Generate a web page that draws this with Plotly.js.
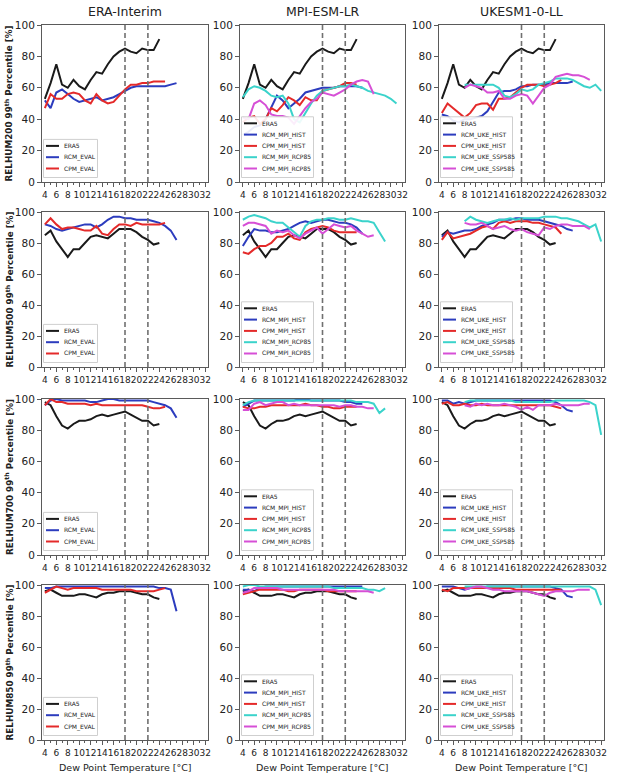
<!DOCTYPE html>
<html><head><meta charset="utf-8">
<script src="https://cdn.plot.ly/plotly-3.0.1.min.js"></script>
<style>html,body{margin:0;padding:0;background:#fff;}</style>
</head><body>
<div id="chart" style="width:617px;height:780px;"></div>
<script>
const N = null;
const dewPoint = [4,5,6,7,8,9,10,11,12,13,14,15,16,17,18,19,20,21,22,23,24,25,26,27,28,29,30,31,32];
const markedDewPoints = [18, 22];
const columnTitles = ['ERA-Interim', 'MPI-ESM-LR', 'UKESM1-0-LL'];
const levelNames = ['RELHUM200', 'RELHUM500', 'RELHUM700', 'RELHUM850'];
const xTitle = 'Dew Point Temperature [°C]';
const namesEval = ['ERA5', 'RCM_EVAL', 'CPM_EVAL'];
const namesMpi = ['ERA5', 'RCM_MPI_HIST', 'CPM_MPI_HIST', 'RCM_MPI_RCP85', 'CPM_MPI_RCP85'];
const namesUke = ['ERA5', 'RCM_UKE_HIST', 'CPM_UKE_HIST', 'RCM_UKE_SSP585', 'CPM_UKE_SSP585'];

// RELHUM200
const era5_200 = [53,63,75,62,60,65,61,59,65,70,69,75,80,83,85,83,82,85,84,84,91];
const rcmEval_200 = [52,47,57,59,56,53,51,52,53,54,52,53,54,56,58,60,61,61,61,61,61,61,62,63];
const cpmEval_200 = [47,56,53,53,56,57,56,52,50,56,52,50,51,55,59,62,62,63,63,64,64,64];
const rcmMpiHist_200 = [30,32,35,36,40,48,55,52,47,50,53,57,58,59,60,60,60,61,61,61,61,60];
const cpmMpiHist_200 = [38,41,42,37,40,47,45,49,54,52,49,54,52,52,58,59,60,61,63,63,62];
const rcmMpiRcp85_200 = [54,59,61,60,58,55,54,55,50,40,38,44,50,55,58,59,60,61,61,62,61,60,58,57,56,55,53,50];
const cpmMpiRcp85_200 = [41,40,50,52,49,43,42,42,41,37,42,47,51,53,57,56,55,57,59,62,64,65,64,56];
const rcmUkeHist_200 = [43,42,39,38,40,40,41,42,45,51,57,58,58,59,61,61,62,62,62,63,63,63,63,64];
const cpmUkeHist_200 = [44,50,47,44,41,44,49,50,50,46,53,53,54,57,60,62,62,62,61,62,63,65];
const rcmUkeSsp585_200 = [N,N,N,N,62,62,62,62,62,62,60,55,54,56,59,58,59,62,63,64,66,66,66,65,63,61,60,62,58];
const cpmUkeSsp585_200 = [N,N,N,N,60,62,61,60,57,57,58,53,53,55,56,55,50,55,60,62,67,68,69,68,68,67,65];

// RELHUM500
const era5_500 = [85,88,81,76,71,76,76,80,84,85,84,83,86,89,89,89,87,84,82,79,80];
const rcmEval_500 = [92,91,89,88,89,90,91,92,92,90,92,95,97,97,96,96,95,95,95,94,93,91,88,82];
const cpmEval_500 = [92,96,92,89,90,90,89,88,88,91,86,85,89,92,92,91,93,92,92,92,92,93];
const rcmMpiHist_500 = [78,84,89,88,88,87,87,88,89,91,93,94,93,94,95,95,94,93,93,92,90,86];
const cpmMpiHist_500 = [74,73,76,78,78,80,84,84,86,83,82,87,89,90,91,90,88,87,87,87,87];
const rcmMpiRcp85_500 = [95,97,98,97,96,94,93,93,90,87,84,91,94,95,95,96,96,95,95,96,95,94,94,93,87,81];
const cpmMpiRcp85_500 = [91,93,93,92,91,86,88,87,88,85,83,86,88,90,86,89,92,91,90,91,88,86,84,85];
const rcmUkeHist_500 = [84,87,86,87,88,88,89,91,92,93,95,95,95,96,96,95,95,95,94,93,92,91,89,88];
const cpmUkeHist_500 = [82,87,83,84,85,86,88,90,91,89,93,94,93,94,94,94,93,93,92,91,90,86];
const rcmUkeSsp585_500 = [N,N,N,N,94,97,95,94,93,94,95,95,96,95,96,96,96,96,97,97,97,96,96,95,94,92,90,92,81];
const cpmUkeSsp585_500 = [N,N,N,N,93,92,92,93,91,89,90,91,89,88,89,87,86,85,90,89,91,92,92,91,91,91,89];

// RELHUM700
const era5_700 = [98,96,89,83,81,84,86,86,87,89,90,89,90,91,92,90,88,86,86,83,84];
const rcmEval_700 = [96,99,100,99,99,99,99,99,98,98,99,100,100,99,99,99,99,99,99,98,97,96,94,88];
const cpmEval_700 = [96,100,98,98,97,97,97,97,96,97,96,96,96,96,96,96,96,96,95,94,94,95];
const rcmMpiHist_700 = [95,97,99,99,99,99,99,99,99,99,100,100,99,99,99,99,99,99,98,98,97,97];
const cpmMpiHist_700 = [95,94,94,95,95,96,96,96,96,96,96,97,96,96,95,95,94,94,95,95,95];
const rcmMpiRcp85_700 = [96,98,99,99,99,99,99,99,99,99,99,99,99,99,99,99,99,99,99,99,98,98,98,97,91,94];
const cpmMpiRcp85_700 = [93,93,97,98,96,97,98,98,96,97,96,96,96,96,96,96,96,95,96,96,95,95,94,94];
const rcmUkeHist_700 = [99,99,97,98,97,98,99,99,99,99,99,99,99,99,99,99,99,99,99,99,98,96,93,92];
const cpmUkeHist_700 = [97,98,96,96,97,96,96,97,96,96,96,96,96,96,96,96,96,96,96,96,95,94];
const rcmUkeSsp585_700 = [N,N,N,N,98,99,99,99,99,99,99,99,99,98,98,98,98,98,98,98,99,99,99,99,99,99,98,96,77];
const cpmUkeSsp585_700 = [N,N,N,N,96,95,97,96,97,96,96,97,96,95,93,95,93,96,96,96,97,96,96,96,96,97,97];

// RELHUM850
const era5_850 = [96,97,95,93,93,93,94,94,93,92,94,95,95,96,96,96,95,94,94,92,91];
const rcmEval_850 = [98,98,99,99,99,99,99,99,99,99,99,99,99,99,99,99,99,99,99,99,98,98,97,83];
const cpmEval_850 = [95,97,99,98,97,98,98,98,98,98,97,97,97,97,97,97,96,96,96,96,97,98];
const rcmMpiHist_850 = [97,97,96,98,99,99,99,99,99,99,99,99,99,99,99,99,99,99,99,99,99,99];
const cpmMpiHist_850 = [94,95,96,97,97,97,97,97,96,96,97,97,97,97,97,96,96,96,96,96,96];
const rcmMpiRcp85_850 = [99,100,100,99,99,99,99,99,99,99,99,99,99,99,99,99,98,98,98,98,98,98,97,97,96,98];
const cpmMpiRcp85_850 = [95,96,98,98,98,98,98,97,97,97,97,97,97,97,97,97,97,96,96,96,96,96,96,95];
const rcmUkeHist_850 = [99,99,99,98,97,98,98,98,99,99,99,99,99,99,99,99,99,99,99,99,98,97,93,92];
const cpmUkeHist_850 = [97,96,98,98,98,98,98,98,98,98,98,98,98,97,97,97,97,97,97,97,97,97];
const rcmUkeSsp585_850 = [N,N,N,N,99,99,99,99,99,99,99,99,99,99,99,99,99,99,99,99,99,99,99,99,99,99,99,97,87];
const cpmUkeSsp585_850 = [N,N,N,N,97,98,99,99,98,97,97,96,96,96,96,96,95,94,93,95,96,96,96,96,97,97,97];

const panels = [
  [[era5_200, rcmEval_200, cpmEval_200],
   [era5_200, rcmMpiHist_200, cpmMpiHist_200, rcmMpiRcp85_200, cpmMpiRcp85_200],
   [era5_200, rcmUkeHist_200, cpmUkeHist_200, rcmUkeSsp585_200, cpmUkeSsp585_200]],
  [[era5_500, rcmEval_500, cpmEval_500],
   [era5_500, rcmMpiHist_500, cpmMpiHist_500, rcmMpiRcp85_500, cpmMpiRcp85_500],
   [era5_500, rcmUkeHist_500, cpmUkeHist_500, rcmUkeSsp585_500, cpmUkeSsp585_500]],
  [[era5_700, rcmEval_700, cpmEval_700],
   [era5_700, rcmMpiHist_700, cpmMpiHist_700, rcmMpiRcp85_700, cpmMpiRcp85_700],
   [era5_700, rcmUkeHist_700, cpmUkeHist_700, rcmUkeSsp585_700, cpmUkeSsp585_700]],
  [[era5_850, rcmEval_850, cpmEval_850],
   [era5_850, rcmMpiHist_850, cpmMpiHist_850, rcmMpiRcp85_850, cpmMpiRcp85_850],
   [era5_850, rcmUkeHist_850, cpmUkeHist_850, rcmUkeSsp585_850, cpmUkeSsp585_850]]
];
const columnNames = [namesEval, namesMpi, namesUke];

// ---- styling / layout ----
const W = 617, H = 780;
const colLeft = [42, 240, 439], colRight = [208, 405, 604];
const rowTop = [25, 212, 399, 585], rowBottom = [182, 367, 555, 740];
const px = x => x / W, py = y => 1 - y / H;
const seriesColors = ['#1a1a1a', '#2c3cbe', '#e42a2a', '#3bd3cb', '#d64fd6'];
const FONT = '"DejaVu Sans", sans-serif';
const AX = '#5a5a5a';

const traces = [], shapes = [], annotations = [];
const layout = {
  width: W, height: H, margin: {l: 0, r: 0, t: 0, b: 0},
  paper_bgcolor: '#fff', plot_bgcolor: '#fff', showlegend: false,
  font: {family: FONT, color: '#222'}
};

for (let r = 0; r < 4; r++) {
  for (let c = 0; c < 3; c++) {
    const k = r * 3 + c + 1;
    const sfx = k === 1 ? '' : String(k);
    layout['xaxis' + sfx] = {
      domain: [px(colLeft[c]), px(colRight[c])], anchor: 'y' + sfx,
      range: [3.5, 32.5], tick0: 4, dtick: 2, tickangle: 0,
      showgrid: false, zeroline: false, showline: true, mirror: true,
      linecolor: AX, linewidth: 1, ticks: 'outside', ticklen: 4, tickcolor: AX,
      minor: {dtick: 1, tick0: 4, ticks: 'outside', ticklen: 2, tickcolor: AX, showgrid: false},
      tickfont: {size: 9, family: FONT, color: '#222'}
    };
    layout['yaxis' + sfx] = {
      domain: [py(rowBottom[r]), py(rowTop[r])], anchor: 'x' + sfx,
      range: [0, 100], tick0: 0, dtick: 20,
      showgrid: false, zeroline: false, showline: true, mirror: true,
      linecolor: AX, linewidth: 1, ticks: 'outside', ticklen: 4, tickcolor: AX,
      tickfont: {size: 10.5, family: FONT, color: '#222'}
    };
    const series = panels[r][c];
    const names = columnNames[c];
    series.forEach((ys, i) => {
      traces.push({
        type: 'scatter', mode: 'lines', x: dewPoint, y: ys, name: names[i],
        xaxis: 'x' + sfx, yaxis: 'y' + sfx, showlegend: false,
        line: {color: seriesColors[i], width: 2}
      });
    });
    markedDewPoints.forEach(v => {
      shapes.push({type: 'line', xref: 'x' + sfx, yref: 'y' + sfx + ' domain',
        x0: v, x1: v, y0: 0, y1: 1, layer: 'above',
        line: {color: '#707070', width: 1.6, dash: '5px,3px'}});
    });
    // legend box (lower left)
    const L = colLeft[c], B = rowBottom[r], n = names.length;
    const boxW = n === 3 ? 54 : 72, step = 11.3;
    const lastY = B - 13.5, firstY = lastY - (n - 1) * step;
    shapes.push({type: 'rect', xref: 'paper', yref: 'paper', layer: 'above',
      x0: px(L + 1.5), x1: px(L + 1.5 + boxW), y0: py(B - 4.5), y1: py(firstY - 6.5),
      fillcolor: 'rgba(255,255,255,0.9)', line: {color: '#cfcfcf', width: 1}});
    names.forEach((nm, i) => {
      const yy = firstY + i * step;
      shapes.push({type: 'line', xref: 'paper', yref: 'paper', layer: 'above',
        x0: px(L + 4), x1: px(L + 17), y0: py(yy), y1: py(yy),
        line: {color: seriesColors[i], width: 2}});
      annotations.push({xref: 'paper', yref: 'paper', x: px(L + 20), y: py(yy),
        xanchor: 'left', yanchor: 'middle', showarrow: false, text: nm,
        font: {size: 6, family: FONT, color: '#222'}});
    });
    if (r === 0) {
      annotations.push({xref: 'paper', yref: 'paper', x: px((colLeft[c] + colRight[c]) / 2), y: py(12),
        xanchor: 'center', yanchor: 'middle', showarrow: false, text: columnTitles[c],
        font: {size: 12.5, family: FONT, color: '#222'}});
    }
    if (r === 3) {
      annotations.push({xref: 'paper', yref: 'paper', x: px((colLeft[c] + colRight[c]) / 2), y: py(767),
        xanchor: 'center', yanchor: 'middle', showarrow: false, text: xTitle,
        font: {size: 9.5, family: FONT, color: '#222'}});
    }
    if (c === 0) {
      annotations.push({xref: 'paper', yref: 'paper', x: px(9), y: py((rowTop[r] + rowBottom[r]) / 2),
        xanchor: 'center', yanchor: 'middle', showarrow: false, textangle: -90,
        text: '<b>' + levelNames[r] + ' 99<sup>th</sup> Percentile [%]</b>',
        font: {size: 8.8, family: FONT, color: '#222'}});
    }
  }
}
layout.shapes = shapes;
layout.annotations = annotations;
Plotly.newPlot('chart', traces, layout, {displayModeBar: false, staticPlot: true});
</script>
</body></html>
